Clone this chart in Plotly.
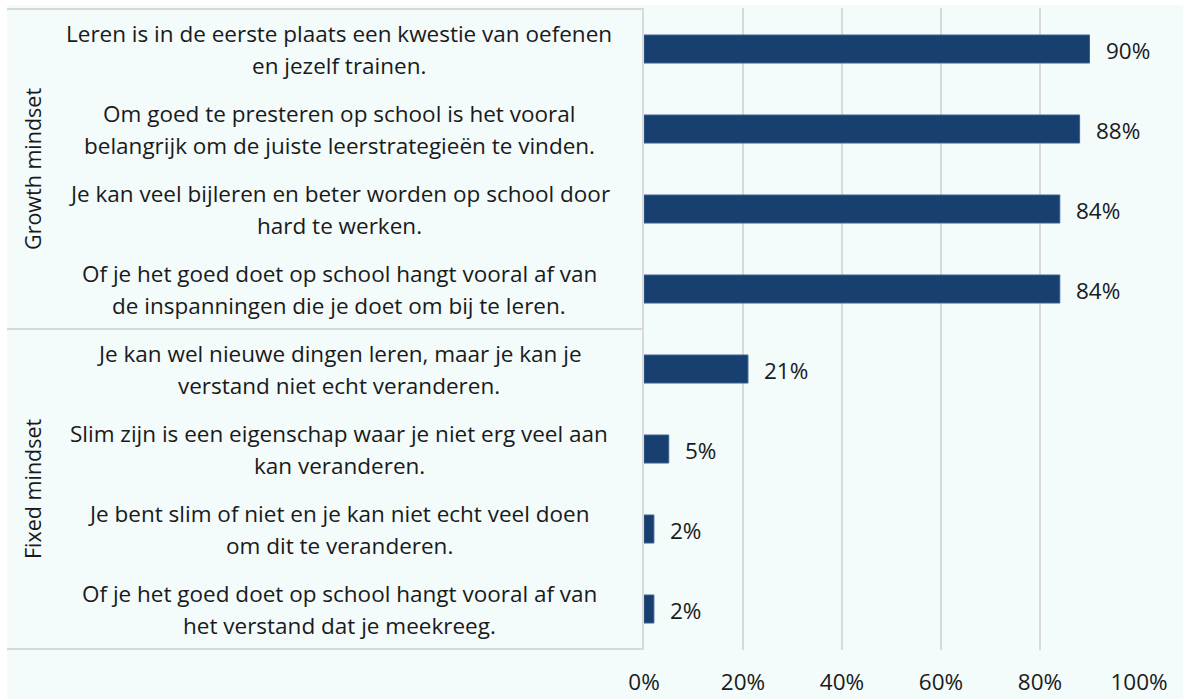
import plotly.graph_objects as go

# Statements (line breaks as shown on the chart) and share agreeing, in %
statements = [
    "Leren is in de eerste plaats een kwestie van oefenen<br>en jezelf trainen.",
    "Om goed te presteren op school is het vooral<br>belangrijk om de juiste leerstrategieën te vinden.",
    "Je kan veel bijleren en beter worden op school door<br>hard te werken.",
    "Of je het goed doet op school hangt vooral af van<br>de inspanningen die je doet om bij te leren.",
    "Je kan wel nieuwe dingen leren, maar je kan je<br>verstand niet echt veranderen.",
    "Slim zijn is een eigenschap waar je niet erg veel aan<br>kan veranderen.",
    "Je bent slim of niet en je kan niet echt veel doen<br>om dit te veranderen.",
    "Of je het goed doet op school hangt vooral af van<br>het verstand dat je meekreeg.",
]
agree_pct = [90, 88, 84, 84, 21, 5, 2, 2]

groups = ["Growth mindset", "Fixed mindset"]
group_sizes = [4, 4]

x_ticks = [0, 20, 40, 60, 80, 100]
x_tick_labels = ["0%", "20%", "40%", "60%", "80%", "100%"]

FONT = "Open Sans"
TEXT = "#1a1a1a"
BAR = "#173F6F"
GRID = "#d9d9d9"
BG = "#F3FBFB"

W, H = 1183, 699
ML, MR, MT, MB = 644, 44, 8, 49
PW = W - ML - MR
PH = H - MT - MB


def px_to_paper_x(px):
    return (px - ML) / PW


def px_to_paper_y(py):
    return (H - MB - py) / PH


fig = go.Figure()
fig.add_trace(go.Bar(
    y=statements,
    x=agree_pct,
    orientation="h",
    marker=dict(color=BAR, line=dict(color="#3b628e", width=1)),
    hoverinfo="skip",
))

annotations = []
# statement labels, one annotation per text line for wider line spacing
for s in statements:
    lines = s.split("<br>")
    n = len(lines)
    for i, ln in enumerate(lines):
        annotations.append(dict(
            x=px_to_paper_x(339), xref="paper", y=s, yref="y",
            text=ln, showarrow=False, xanchor="center", yanchor="middle",
            yshift=16 * (n - 1) - 32 * i,
            font=dict(family=FONT, size=22.5, color=TEXT),
        ))

# value labels
for s, v in zip(statements, agree_pct):
    annotations.append(dict(
        x=v, xref="x", y=s, yref="y", text=f"{v}%", showarrow=False,
        xanchor="left", yanchor="middle", xshift=14, yshift=-1,
        font=dict(family=FONT, size=22.5, color=TEXT),
    ))

# group labels and table lines
shapes = [
    dict(type="rect", xref="paper", yref="paper",
         x0=px_to_paper_x(7), x1=px_to_paper_x(W),
         y0=px_to_paper_y(H), y1=px_to_paper_y(5),
         fillcolor=BG, line=dict(width=0), layer="below"),
]
start = 0
bounds = [-0.5]
for g, n in zip(groups, group_sizes):
    mid = start + (n - 1) / 2
    annotations.append(dict(
        x=px_to_paper_x(32), xref="paper", y=mid, yref="y", text=g,
        showarrow=False, textangle=-90, xanchor="center", yanchor="middle",
        font=dict(family=FONT, size=21.5, color=TEXT),
    ))
    start += n
    bounds.append(start - 0.5)

for b in bounds:
    shapes.append(dict(type="line", xref="paper", yref="y",
                       x0=px_to_paper_x(7), x1=0, y0=b, y1=b,
                       line=dict(color=GRID, width=2)))

fig.update_layout(
    width=W, height=H,
    margin=dict(l=ML, r=MR, t=MT, b=MB, pad=0, autoexpand=False),
    paper_bgcolor="white",
    plot_bgcolor=BG,
    bargap=0.65,
    showlegend=False,
    annotations=annotations,
    shapes=shapes,
    xaxis=dict(
        range=[0, 100], tickvals=x_ticks, ticktext=x_tick_labels,
        showgrid=True, gridcolor=GRID, gridwidth=2,
        zeroline=False, showline=False, ticks="",
        ticklabelstandoff=16, automargin=False,
        tickfont=dict(family=FONT, size=22.5, color=TEXT),
        fixedrange=True,
    ),
    yaxis=dict(
        autorange="reversed", showticklabels=False, ticks="",
        showgrid=False, zeroline=False, automargin=False,
        showline=True, linecolor=GRID, linewidth=2,
        fixedrange=True,
    ),
)

# page without body margin so the figure sits at the window origin
fig.write_html(
    "out.html",
    config={"displayModeBar": False},
    post_script="document.body.style.margin='0';document.body.style.overflow='hidden';",
)
